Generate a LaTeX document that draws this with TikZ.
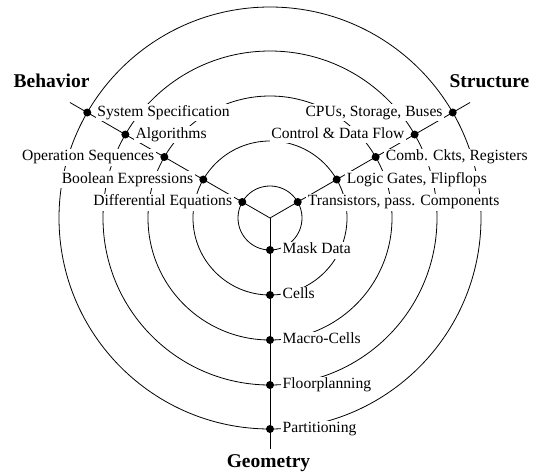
\documentclass[tikz,border=0pt]{standalone}
\usepackage{fontspec}
\setmainfont{Liberation Serif}
\begin{document}
\begin{tikzpicture}[x=1pt,y=-1pt,
  ring/.style={line width=0.8pt},
  axis/.style={line width=0.8pt},
  lvl/.style={fill=white, inner sep=1.5pt, font=\fontsize{15.6}{18}\selectfont,
              text height=10.5pt, text depth=3.5pt},
  dot/.style={circle, fill=black, inner sep=0pt, minimum size=8pt},
  title/.style={font=\fontsize{19.5}{22}\bfseries\selectfont, anchor=base, inner sep=0pt}]
\useasboundingbox (0,0) rectangle (533,472);
\begin{scope}[shift={(270,218)}]
  \coordinate (o) at (0,0);
  % concentric abstraction levels
  \foreach \r in {32,77,122,167,211} \draw[ring] (o) circle[radius=\r];
  % the three domain axes
  \coordinate (eb) at (-150:231);
  \coordinate (es) at (-30:231);
  \coordinate (eg) at (90:231);
  \draw[axis] (o) -- (eb);
  \draw[axis] (o) -- (es);
  \draw[axis] (o) -- (eg);
  % level points on each axis
  \foreach \i/\r in {1/32,2/77,3/122,4/167,5/211} {
    \coordinate (b\i) at (-150:\r);
    \coordinate (s\i) at (-30:\r);
    \coordinate (g\i) at (90:\r);
  }
  % behavioral domain
  \node[lvl, anchor=west] (tb5) at ([xshift=8.5pt]b5) {System Specification};
  \node[lvl, anchor=west] (tb4) at ([xshift=8.5pt]b4) {Algorithms};
  \node[lvl, anchor=east] (tb3) at ([xshift=-8.5pt]b3) {Operation Sequences};
  \node[lvl, anchor=east] (tb2) at ([xshift=-8.5pt]b2) {Boolean Expressions};
  \node[lvl, anchor=east] (tb1) at ([xshift=-8.5pt]b1) {Differential Equations};
  % structural domain
  \node[lvl, anchor=east] (ts5) at ([xshift=-8.5pt]s5) {CPUs, Storage, Buses};
  \node[lvl, anchor=east] (ts4) at ([xshift=-8.5pt]s4) {Control \& Data Flow};
  \node[lvl, anchor=west] (ts3) at ([xshift=8.5pt]s3) {Comb. Ckts, Registers};
  \node[lvl, anchor=west] (ts2) at ([xshift=8.5pt]s2) {Logic Gates, Flipflops};
  \node[lvl, anchor=west] (ts1) at ([xshift=8.5pt]s1) {Transistors, pass. Components};
  % geometrical domain
  \node[lvl, anchor=west] (tg1) at ([xshift=11pt]g1) {Mask Data};
  \node[lvl, anchor=west] (tg2) at ([xshift=11pt]g2) {Cells};
  \node[lvl, anchor=west] (tg3) at ([xshift=11pt]g3) {Macro-Cells};
  \node[lvl, anchor=west] (tg4) at ([xshift=11pt]g4) {Floorplanning};
  \node[lvl, anchor=west] (tg5) at ([xshift=11pt]g5) {Partitioning};
  % dots
  \foreach \i in {1,...,5} {
    \node[dot] (db\i) at (b\i) {};
    \node[dot] (ds\i) at (s\i) {};
    \node[dot] (dg\i) at (g\i) {};
  }
\end{scope}
% domain names
\node[title] (behavior) at (51.5,87) {Behavior};
\node[title] (structure) at (489.5,87) {Structure};
\node[title] (geometry) at (268.5,467) {Geometry};
\end{tikzpicture}
\end{document}
